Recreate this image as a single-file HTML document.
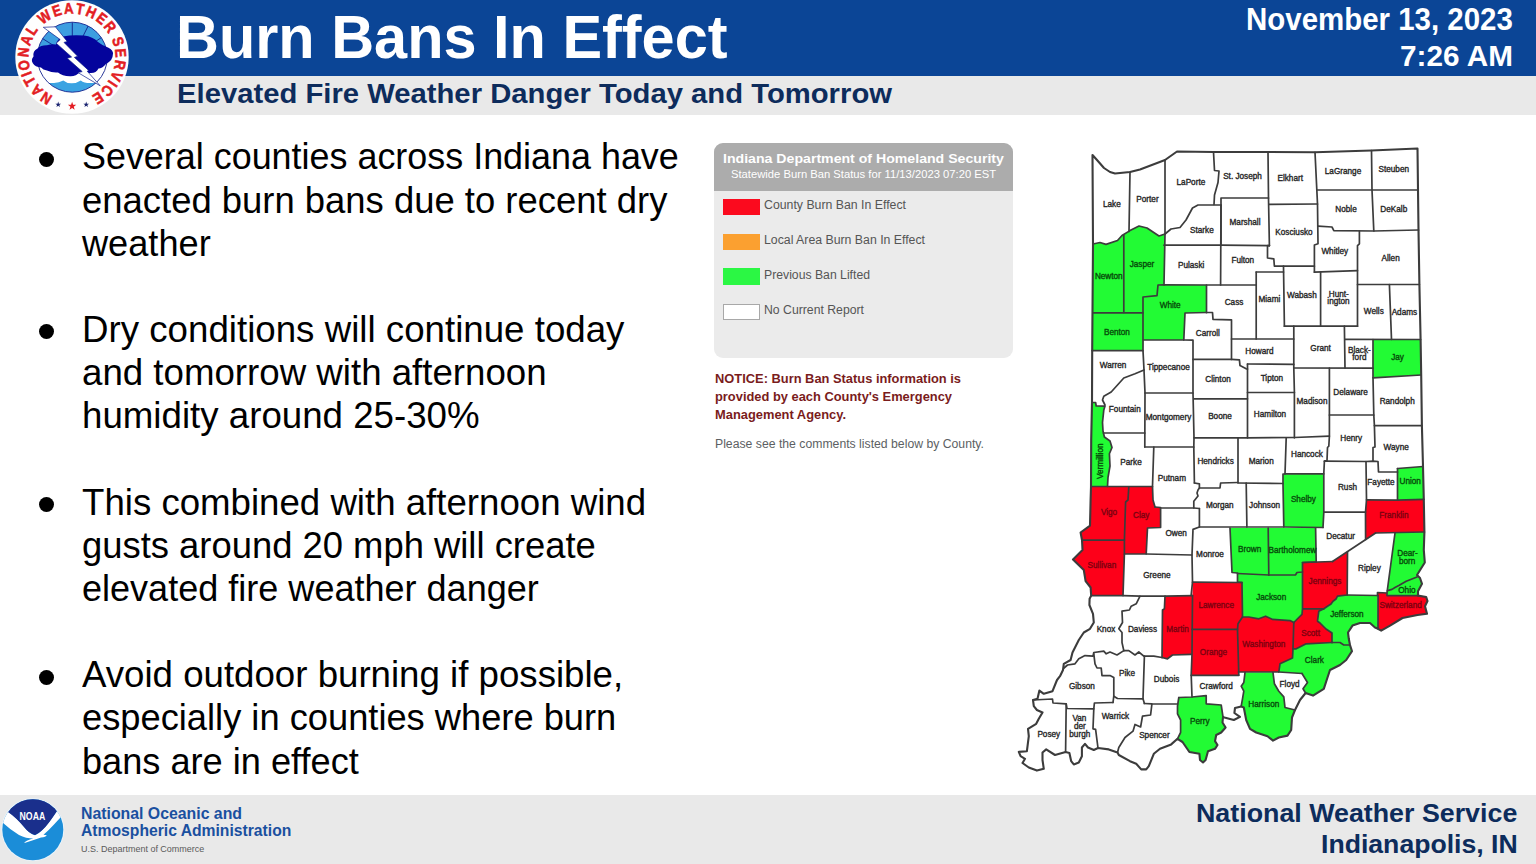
<!DOCTYPE html>
<html><head><meta charset="utf-8"><title>Burn Bans In Effect</title>
<style>
html,body{margin:0;padding:0;}
body{width:1536px;height:864px;position:relative;overflow:hidden;background:#fff;font-family:"Liberation Sans",sans-serif;}
.t{position:absolute;white-space:nowrap;line-height:1;transform-origin:0 0;padding:0;margin:0;}
.t{line-height:normal}
.abs{position:absolute}
.dot{position:absolute;left:39.25px;width:15px;height:15px;border-radius:50%;background:#000}
</style></head><body>
<div class="abs" style="left:0;top:0;width:1536px;height:76px;background:#0b4596"></div>
<div class="abs" style="left:0;top:76px;width:1536px;height:38.7px;background:#e9e9e9"></div>
<div class="abs" style="left:0;top:795px;width:1536px;height:69px;background:#e9e9e9"></div>
<svg class="abs" style="position:absolute;left:0;top:0" width="150" height="120" viewBox="0 0 150 120">
<circle cx="72" cy="57" r="56.7" fill="#fefefe"/>
<clipPath id="ic"><circle cx="72.3" cy="57.2" r="35"/></clipPath>
<circle cx="72.3" cy="57.2" r="35" fill="#fff"/>
<g clip-path="url(#ic)">
<rect x="30" y="20" width="90" height="42" fill="#3d9ee0"/>
<line x1="57.0" y1="47.7" x2="41.8" y2="38.1" stroke="#10208c" stroke-width="0.9"/>
<line x1="63.3" y1="41.6" x2="54.3" y2="26.0" stroke="#10208c" stroke-width="0.9"/>
<line x1="72.3" y1="39.2" x2="72.3" y2="21.2" stroke="#10208c" stroke-width="0.9"/>
<line x1="80.5" y1="41.2" x2="88.6" y2="25.1" stroke="#10208c" stroke-width="0.9"/>
<line x1="87.2" y1="47.1" x2="102.1" y2="37.1" stroke="#10208c" stroke-width="0.9"/>
<path d="M30,84 Q46,82.5 54,83 Q59,82.8 63.3,80.4 Q67,83.5 72,83.2 Q77,83 80.8,80.4 Q84,83 90,83 Q100,82.5 115,84 L115,100 L30,100 Z" fill="#3aa3e2"/>
</g>
<circle cx="72.3" cy="57.2" r="35" fill="none" stroke="#14248f" stroke-width="0.9"/>
<path d="M63,36.5 Q72,34.5 84,35.5 Q93,36.5 98,42 Q103,46 108,47.5 Q114,50 112.8,55 Q113,60 106,64 Q102,68.5 98.5,68.5 Q96,73.5 90,73 Q84,73.5 80,72 Q76,76.5 70,76.2 Q62,76 58,72.5 Q52,73 47,70.5 Q43,69.8 41,67.5 Q35,67 33,63.5 Q30.5,60 33.5,56.5 Q32.5,51 37.5,48.5 Q41,45 47,45.2 Q52,43.5 56,44.5 Q57,39 63,36.5 Z" fill="#04049c"/>
<polygon points="43.3,27.3 55.4,26.8 67.2,41.4 64.0,42.4 77.6,56.2 74.4,57.4 88.6,70.4 87.2,71.2 100.2,85.8 78,72.6 82.2,71.6 67.2,58.2 71.6,57.0 56.2,43.2 60.2,39.6" fill="#fff" stroke="#10208c" stroke-width="0.7" stroke-linejoin="miter"/>
<polygon points="58.20,101.60 58.91,103.63 61.05,103.67 59.34,104.97 59.96,107.03 58.20,105.80 56.44,107.03 57.06,104.97 55.35,103.67 57.49,103.63" fill="#1b2470"/>
<polygon points="72.10,101.80 73.13,104.78 76.28,104.84 73.77,106.74 74.69,109.76 72.10,107.96 69.51,109.76 70.43,106.74 67.92,104.84 71.07,104.78" fill="#e31d23"/>
<polygon points="86.20,101.60 86.91,103.63 89.05,103.67 87.34,104.97 87.96,107.03 86.20,105.80 84.44,107.03 85.06,104.97 83.35,103.67 85.49,103.63" fill="#1b2470"/>
<g font-family="Liberation Sans, sans-serif" font-weight="bold" font-size="15.3" fill="#e31d23" stroke="#e31d23" stroke-width="0.55" text-anchor="middle">
<text transform="rotate(-148.00 72 57) translate(72 13.600000000000001) scale(0.86 1)">N</text>
<text transform="rotate(-133.25 72 57) translate(72 13.600000000000001) scale(0.86 1)">A</text>
<text transform="rotate(-119.64 72 57) translate(72 13.600000000000001) scale(0.86 1)">T</text>
<text transform="rotate(-110.56 72 57) translate(72 13.600000000000001) scale(0.86 1)">I</text>
<text transform="rotate(-99.78 72 57) translate(72 13.600000000000001) scale(0.86 1)">O</text>
<text transform="rotate(-84.46 72 57) translate(72 13.600000000000001) scale(0.86 1)">N</text>
<text transform="rotate(-69.71 72 57) translate(72 13.600000000000001) scale(0.86 1)">A</text>
<text transform="rotate(-56.10 72 57) translate(72 13.600000000000001) scale(0.86 1)">L</text>
<text transform="rotate(-34.54 72 57) translate(72 13.600000000000001) scale(0.86 1)">W</text>
<text transform="rotate(-18.09 72 57) translate(72 13.600000000000001) scale(0.86 1)">E</text>
<text transform="rotate(-3.90 72 57) translate(72 13.600000000000001) scale(0.86 1)">A</text>
<text transform="rotate(9.71 72 57) translate(72 13.600000000000001) scale(0.86 1)">T</text>
<text transform="rotate(23.32 72 57) translate(72 13.600000000000001) scale(0.86 1)">H</text>
<text transform="rotate(37.51 72 57) translate(72 13.600000000000001) scale(0.86 1)">E</text>
<text transform="rotate(51.69 72 57) translate(72 13.600000000000001) scale(0.86 1)">R</text>
<text transform="rotate(71.56 72 57) translate(72 13.600000000000001) scale(0.86 1)">S</text>
<text transform="rotate(85.18 72 57) translate(72 13.600000000000001) scale(0.86 1)">E</text>
<text transform="rotate(99.37 72 57) translate(72 13.600000000000001) scale(0.86 1)">R</text>
<text transform="rotate(113.55 72 57) translate(72 13.600000000000001) scale(0.86 1)">V</text>
<text transform="rotate(123.20 72 57) translate(72 13.600000000000001) scale(0.86 1)">I</text>
<text transform="rotate(133.41 72 57) translate(72 13.600000000000001) scale(0.86 1)">C</text>
<text transform="rotate(147.60 72 57) translate(72 13.600000000000001) scale(0.86 1)">E</text>
</g>
</svg>
<svg style="position:absolute;left:0;top:795px" width="70" height="69" viewBox="0 795 70 69">
<circle cx="32.8" cy="829.7" r="31.4" fill="#eaf4fb"/>
<clipPath id="nc"><circle cx="32.8" cy="829.7" r="30.5"/></clipPath>
<g clip-path="url(#nc)">
<rect x="0" y="795" width="70" height="69" fill="#1b8dd8"/>
<path d="M0,821 L8,811.5 Q17,818 25,828 Q30,834 35,835.2 Q41,833 50,821 Q55,814 58,809.5 L63,815 Q58,820 54,824.5 Q48,831 43.5,834.8 L46.8,835.2 Q46,837 41,837.6 Q33,840.5 24.5,843 Q24,842 28,840.2 Q32,838.5 33.5,838.6 Q26,838.6 19,835 Q10,829.5 2.5,822.5 Z" fill="#fff"/>
<path d="M8,812 Q20,796 32.8,797 Q46,796 57.5,810.2 Q53,817 49,822.5 Q42,832 35,835 Q29,833.5 24,827 Q16,817.5 8,812 Z" fill="#1a2f8c"/>
</g>
<text transform="translate(32.4 819.5) scale(0.80 1)" text-anchor="middle" font-family="Liberation Sans, sans-serif" font-weight="bold" font-size="10.9" fill="#fff">NOAA</text>
</svg>
<div class="dot" style="top:151.75px"></div>
<div class="dot" style="top:324.39px"></div>
<div class="dot" style="top:497.03px"></div>
<div class="dot" style="top:669.67px"></div>
<!-- legend -->
<div class="abs" style="left:714px;top:143.1px;width:298.8px;height:215.4px;border-radius:9px;background:#ebebeb;overflow:hidden">
 <div style="position:absolute;left:0;top:0;width:100%;height:47.6px;background:#acacac"></div>
</div>
<div class="abs" style="left:722.8px;top:199px;width:37.6px;height:16.2px;background:#fb0a1e"></div>
<div class="abs" style="left:722.8px;top:233.7px;width:37.6px;height:16.3px;background:#fba030"></div>
<div class="abs" style="left:722.8px;top:268.3px;width:37.6px;height:16.9px;background:#2bf744"></div>
<div class="abs" style="left:722.8px;top:303.9px;width:35.6px;height:14px;background:#fff;border:1px solid #a8a8a8"></div>
<svg id="map" width="1536" height="864" viewBox="0 0 1536 864" style="position:absolute;left:0;top:0">
<polygon points="1092.5,155.0 1097.0,160.0 1104.0,168.0 1110.0,172.0 1115.0,173.5 1130.0,172.0 1140.0,169.5 1165.0,160.0 1177.0,151.5 1213.5,152.0 1268.0,152.0 1315.0,152.3 1371.5,150.5 1417.5,148.5 1418.0,190.0 1418.5,230.0 1419.4,284.5 1420.6,339.5 1421.2,375.0 1421.9,425.6 1423.0,466.5 1423.8,499.4 1424.4,532.0 1423.8,550.0 1424.8,562.5 1417.0,575.0 1420.0,578.0 1422.0,583.8 1418.0,591.2 1418.0,595.6 1426.2,597.0 1427.5,601.0 1425.0,606.2 1427.0,613.8 1417.5,615.0 1402.5,618.0 1390.0,625.6 1381.2,630.6 1378.0,628.8 1375.0,627.5 1370.0,623.0 1360.0,623.0 1352.5,625.6 1348.0,632.5 1348.8,638.8 1350.0,645.0 1352.0,651.2 1346.2,660.0 1340.0,665.0 1330.0,670.0 1327.5,677.5 1323.8,688.8 1313.0,695.6 1305.6,693.0 1300.0,700.0 1295.0,710.0 1292.0,717.5 1291.2,730.0 1287.5,735.6 1278.8,737.5 1273.0,740.6 1267.5,736.2 1256.2,732.5 1250.0,728.8 1246.2,720.0 1243.8,707.5 1241.2,706.5 1235.0,708.0 1234.4,713.0 1240.0,716.9 1233.8,720.0 1224.4,717.5 1223.0,717.0 1222.5,722.5 1225.6,727.5 1221.2,732.5 1216.2,735.0 1215.0,741.2 1217.5,745.0 1215.0,748.8 1208.0,751.2 1205.6,760.0 1203.0,762.5 1200.0,760.0 1199.4,753.8 1189.4,752.0 1182.5,742.0 1177.5,738.8 1171.2,744.4 1160.0,748.8 1153.8,753.8 1148.8,766.2 1146.2,769.4 1141.2,769.4 1136.2,763.8 1130.0,761.2 1118.8,755.0 1117.5,752.5 1108.8,749.4 1098.0,748.0 1093.8,750.0 1088.0,747.5 1085.0,743.8 1081.9,747.5 1081.9,756.2 1078.8,762.5 1073.8,764.4 1071.2,761.2 1069.4,753.0 1065.6,752.0 1055.0,755.0 1046.2,749.4 1042.5,752.5 1042.5,760.0 1043.8,768.8 1036.9,770.6 1028.8,767.5 1022.5,763.0 1025.0,758.8 1020.6,756.2 1018.8,751.9 1026.9,751.2 1028.8,736.2 1028.0,728.8 1036.2,723.8 1038.8,718.8 1042.5,712.5 1036.9,710.0 1033.8,706.2 1033.0,700.0 1037.5,698.8 1039.4,690.6 1043.8,693.8 1052.5,691.2 1057.0,680.0 1060.0,676.2 1063.0,670.0 1063.8,663.8 1070.6,660.0 1072.5,652.5 1078.8,640.0 1083.8,632.5 1090.0,628.8 1093.8,622.5 1093.0,613.8 1089.4,605.0 1089.6,598.8 1091.2,595.6 1090.6,587.5 1085.6,581.2 1083.8,570.0 1073.0,559.4 1082.5,550.0 1082.0,540.0 1080.6,532.5 1090.0,525.6 1090.6,500.0 1091.0,487.0 1091.2,440.0 1092.0,402.5 1092.2,350.0 1093.0,245.0" fill="#fff" stroke="none"/>
<polygon points="1093.0,244.0 1100.0,242.5 1106.0,244.4 1117.5,240.5 1122.0,235.5 1130.0,230.6 1139.0,226.0 1147.0,228.0 1159.0,236.0 1165.0,234.0 1164.0,284.8 1206.5,285.0 1206.5,312.5 1185.0,313.0 1183.8,340.0 1143.5,340.0 1143.0,350.6 1092.0,350.6 1093.0,312.0" fill="#22fb34"/>
<polygon points="1092.0,402.5 1095.6,402.5 1096.2,406.0 1104.4,406.2 1105.0,406.0 1103.8,410.0 1102.5,422.5 1103.0,431.0 1104.4,437.0 1110.0,441.0 1112.0,447.5 1109.4,453.8 1110.0,466.0 1108.0,477.5 1107.5,486.5 1091.0,486.5 1091.2,440.0" fill="#22fb34"/>
<polygon points="1373.0,339.5 1420.6,339.5 1421.2,375.0 1373.0,377.8" fill="#22fb34"/>
<polygon points="1283.0,474.2 1323.8,473.8 1323.8,512.5 1323.0,527.5 1283.8,527.0 1283.0,483.5" fill="#22fb34"/>
<polygon points="1397.5,468.5 1423.0,466.5 1423.8,499.4 1397.5,500.2" fill="#22fb34"/>
<polygon points="1230.0,528.0 1315.6,528.0 1316.2,562.0 1302.5,562.5 1302.5,608.8 1302.0,614.4 1293.8,622.5 1290.0,620.6 1272.5,619.4 1265.6,616.2 1258.8,618.8 1248.8,617.0 1242.5,617.0 1242.0,582.5 1237.5,582.0 1237.5,573.0 1232.0,572.5" fill="#22fb34"/>
<polygon points="1395.0,533.0 1424.4,532.0 1423.8,550.0 1424.8,562.5 1417.0,575.0 1420.0,578.0 1422.0,583.8 1418.0,591.2 1418.0,595.6 1387.0,595.6 1387.0,592.5" fill="#22fb34"/>
<polygon points="1337.5,596.2 1347.2,595.0 1377.5,595.5 1378.0,628.8 1375.0,627.5 1370.0,623.0 1360.0,623.0 1352.5,625.6 1348.0,632.5 1348.8,638.8 1350.0,645.0 1352.0,651.2 1346.2,660.0 1340.0,665.0 1330.0,670.0 1327.5,677.5 1323.8,688.8 1313.0,695.6 1305.6,693.0 1305.6,693.0 1303.0,688.8 1307.5,682.5 1302.0,673.5 1278.8,672.0 1280.0,663.8 1292.5,658.0 1293.0,648.8 1296.2,648.8 1306.2,643.8 1332.0,642.5 1332.0,633.0 1329.0,631.0 1326.0,629.0 1323.0,626.0 1320.0,623.0 1317.5,621.2 1318.8,611.2 1323.8,608.8 1327.5,606.2 1331.0,604.0 1333.0,601.2 1336.0,599.0 1337.5,596.2" fill="#22fb34"/>
<polygon points="1245.0,672.5 1273.0,672.5 1274.4,683.8 1278.8,691.2 1283.8,696.9 1285.0,707.5 1295.0,710.0 1292.0,717.5 1291.2,730.0 1287.5,735.6 1278.8,737.5 1273.0,740.6 1267.5,736.2 1256.2,732.5 1250.0,728.8 1246.2,720.0 1243.8,707.5 1241.2,706.2 1242.5,698.8 1243.8,691.2 1241.2,686.2 1243.8,682.5 1245.0,672.5" fill="#22fb34"/>
<polygon points="1178.8,697.5 1192.0,697.0 1206.2,695.6 1206.2,703.8 1221.2,705.0 1223.0,717.0 1222.5,722.5 1225.6,727.5 1221.2,732.5 1216.2,735.0 1215.0,741.2 1217.5,745.0 1215.0,748.8 1208.0,751.2 1205.6,760.0 1203.0,762.5 1200.0,760.0 1199.4,753.8 1189.4,752.0 1182.5,742.0 1177.5,738.8 1180.6,732.5 1180.6,720.0 1177.5,713.8 1177.5,706.2 1178.8,697.5" fill="#22fb34"/>
<polygon points="1091.0,486.5 1152.5,486.5 1153.0,500.0 1155.0,507.0 1160.6,507.5 1160.6,527.5 1147.5,528.0 1146.2,554.0 1124.4,554.0 1123.0,595.6 1091.2,595.6 1090.6,587.5 1085.6,581.2 1083.8,570.0 1073.0,559.4 1082.5,550.0 1082.0,540.0 1080.6,532.5 1090.0,525.6 1090.6,500.0" fill="#fd0019"/>
<polygon points="1366.5,499.8 1397.5,500.2 1423.8,499.4 1424.4,532.0 1375.6,533.0 1365.6,539.5 1365.5,512.2" fill="#fd0019"/>
<polygon points="1302.5,562.5 1332.5,561.5 1347.5,552.0 1347.2,595.0 1337.5,596.2 1336.0,599.0 1333.0,601.2 1331.0,604.0 1327.5,606.2 1323.8,608.8 1303.0,608.8" fill="#fd0019"/>
<polygon points="1377.5,592.5 1387.0,593.0 1387.0,595.6 1418.0,595.6 1426.2,597.0 1427.5,601.0 1425.0,606.2 1427.0,613.8 1417.5,615.0 1402.5,618.0 1390.0,625.6 1381.2,630.6 1378.0,628.8 1378.0,595.5" fill="#fd0019"/>
<polygon points="1165.0,596.2 1192.5,595.6 1192.5,582.2 1242.0,582.5 1242.5,617.0 1248.8,617.0 1258.8,618.8 1265.6,616.2 1272.5,619.4 1290.0,620.6 1293.8,622.5 1302.0,614.4 1302.5,608.8 1323.8,608.8 1318.8,611.2 1317.5,621.2 1320.0,623.0 1323.0,626.0 1326.0,629.0 1329.0,631.0 1332.0,633.0 1332.0,642.5 1306.2,643.8 1296.2,648.8 1293.0,648.8 1292.5,658.0 1280.0,663.8 1278.8,672.0 1238.5,672.0 1238.8,675.3 1191.2,675.3 1192.0,654.4 1172.5,655.0 1167.5,658.8 1162.0,657.5 1162.5,610.0 1164.4,608.8" fill="#fd0019"/>
<g fill="none" stroke="#3c3c3c" stroke-width="1.7" stroke-linejoin="round" stroke-linecap="round">
<polyline points="1130.0,172.0 1129.0,231.5"/>
<polyline points="1165.0,160.0 1165.0,234.0"/>
<polyline points="1093.0,244.0 1100.0,242.5 1106.0,244.4 1117.5,240.5 1122.0,235.5 1130.0,230.6 1139.0,226.0 1147.0,228.0 1159.0,236.0 1165.0,234.0 1171.0,229.0 1180.0,227.5 1186.0,220.0 1192.5,208.0 1198.0,205.0 1221.0,205.0"/>
<polyline points="1213.5,152.0 1214.5,170.5 1219.0,171.0 1218.0,182.5 1214.5,195.0 1214.0,204.5"/>
<polyline points="1221.0,245.3 1221.0,198.0 1268.5,198.0"/>
<polyline points="1268.0,152.0 1268.5,198.0 1269.4,245.6"/>
<polyline points="1164.0,245.2 1221.0,245.2 1269.4,245.6"/>
<polyline points="1269.0,204.4 1317.5,204.0"/>
<polyline points="1315.0,152.3 1317.5,204.0 1318.0,243.8 1314.4,245.0 1314.4,272.2"/>
<polyline points="1371.5,150.5 1372.0,190.0 1373.8,231.0"/>
<polyline points="1317.0,190.0 1418.0,190.0"/>
<polyline points="1318.0,226.2 1332.0,227.0 1333.8,230.6 1373.8,231.0 1418.5,230.0"/>
<polyline points="1359.4,231.0 1359.4,243.8 1357.5,245.6 1357.5,284.5 1357.5,326.2"/>
<polyline points="1269.4,245.6 1267.5,245.6 1267.5,258.0 1273.8,258.8 1274.4,266.2 1314.4,266.2"/>
<polyline points="1314.4,272.2 1357.5,270.6"/>
<polyline points="1357.5,284.5 1419.4,284.5"/>
<polyline points="1389.4,284.5 1391.5,339.4"/>
<polyline points="1165.0,234.0 1164.0,284.6"/>
<polyline points="1221.0,205.0 1220.6,285.0"/>
<polyline points="1164.0,284.8 1206.5,285.0 1220.6,285.0 1256.2,285.0"/>
<polyline points="1164.0,284.8 1158.0,285.0 1157.0,295.6 1143.0,297.0 1143.0,312.8 1143.0,350.6 1144.0,370.0 1145.0,393.0 1144.8,447.0"/>
<polyline points="1123.8,235.0 1123.8,312.5"/>
<polyline points="1093.0,312.8 1143.0,312.8"/>
<polyline points="1092.0,350.6 1143.0,350.6"/>
<polyline points="1206.5,285.0 1206.5,312.5"/>
<polyline points="1206.5,312.5 1185.0,313.0 1183.8,340.0"/>
<polyline points="1206.5,312.5 1212.5,312.5 1213.0,319.4 1231.5,319.8 1231.5,359.4"/>
<polyline points="1143.5,340.0 1183.8,340.0 1193.0,340.2 1193.0,359.4 1193.0,393.0 1194.0,438.0 1193.8,447.0 1194.4,483.0"/>
<polyline points="1193.0,359.4 1231.5,359.4 1239.4,359.8 1240.0,365.6 1246.2,368.8 1247.5,369.0"/>
<polyline points="1256.2,272.0 1256.2,339.0"/>
<polyline points="1256.2,272.0 1283.5,272.0"/>
<polyline points="1283.5,266.2 1284.4,326.2"/>
<polyline points="1320.6,272.0 1320.6,326.2"/>
<polyline points="1284.4,326.2 1357.5,326.2"/>
<polyline points="1293.8,326.2 1293.8,368.0 1294.4,392.5 1294.4,437.8"/>
<polyline points="1231.5,339.0 1293.8,339.0"/>
<polyline points="1344.4,326.2 1345.0,368.0"/>
<polyline points="1345.0,339.4 1420.6,339.5"/>
<polyline points="1293.8,368.0 1373.0,368.2"/>
<polyline points="1373.0,339.5 1373.0,368.2 1373.0,377.8 1373.8,415.0 1374.4,425.6 1375.0,447.0 1373.0,447.5 1373.0,461.2"/>
<polyline points="1373.0,377.8 1421.2,375.0"/>
<polyline points="1374.4,425.6 1421.9,425.6"/>
<polyline points="1247.5,364.0 1293.8,364.4"/>
<polyline points="1247.5,364.0 1247.5,437.8"/>
<polyline points="1247.5,392.5 1294.4,392.5"/>
<polyline points="1194.0,398.8 1247.5,398.8"/>
<polyline points="1145.0,393.0 1193.0,393.0"/>
<polyline points="1329.4,368.2 1329.4,436.2 1328.8,446.2 1327.5,447.5 1327.0,460.6 1324.4,461.0 1323.8,473.8 1323.8,512.5 1323.0,527.5"/>
<polyline points="1329.4,415.0 1373.8,415.0"/>
<polyline points="1194.0,437.8 1247.5,437.8 1294.4,437.5 1329.4,436.2"/>
<polyline points="1238.0,438.0 1238.0,482.5"/>
<polyline points="1286.2,438.0 1285.0,473.9 1283.0,474.2 1283.0,483.5 1283.8,527.0"/>
<polyline points="1285.0,473.8 1323.8,473.8"/>
<polyline points="1238.0,483.0 1283.0,483.5"/>
<polyline points="1324.4,461.2 1366.2,461.5 1373.0,461.2 1378.0,461.5 1378.5,472.0 1397.5,472.0"/>
<polyline points="1397.5,468.5 1397.5,500.0"/>
<polyline points="1397.5,468.5 1423.0,466.5"/>
<polyline points="1366.0,461.5 1366.5,499.8 1365.5,512.2 1365.6,539.5"/>
<polyline points="1366.5,499.8 1397.5,500.2 1423.8,499.4"/>
<polyline points="1323.8,512.2 1365.5,512.2"/>
<polyline points="1144.0,370.0 1135.0,373.8 1123.8,378.0 1117.5,385.0 1111.2,392.0 1103.8,396.2 1102.5,400.0 1105.0,405.0"/>
<polyline points="1092.0,402.5 1095.6,402.5 1096.2,406.0 1104.4,406.2"/>
<polyline points="1105.0,406.0 1103.8,410.0 1102.5,422.5 1103.0,431.0 1104.4,437.0 1110.0,441.0 1112.0,447.5 1109.4,453.8 1110.0,466.0 1108.0,477.5 1107.5,486.5"/>
<polyline points="1103.5,433.0 1144.8,433.0"/>
<polyline points="1144.8,447.0 1193.8,447.0"/>
<polyline points="1153.8,447.0 1152.5,486.5 1153.0,500.0 1155.0,507.0"/>
<polyline points="1091.0,486.5 1152.5,486.5"/>
<polyline points="1128.8,487.0 1128.0,500.0 1125.6,502.0 1124.4,540.0 1124.4,554.0 1123.0,595.6"/>
<polyline points="1082.0,540.2 1124.4,540.2"/>
<polyline points="1155.0,507.0 1160.6,507.5 1160.6,527.5 1147.5,528.0 1146.2,554.0"/>
<polyline points="1124.4,554.0 1146.2,554.0 1192.0,555.0"/>
<polyline points="1160.6,508.0 1193.8,508.0 1199.4,508.5"/>
<polyline points="1194.4,483.0 1199.4,483.8 1199.4,488.0 1198.0,490.0 1197.0,493.0 1198.0,496.0 1193.8,501.2 1193.8,508.0"/>
<polyline points="1199.4,488.0 1220.0,488.0 1220.6,483.0 1238.0,482.5"/>
<polyline points="1199.4,508.5 1199.4,527.0 1193.0,529.4 1192.0,555.0 1192.5,582.0 1191.2,594.8"/>
<polyline points="1199.4,527.0 1246.5,527.0 1283.8,527.0 1323.0,527.5"/>
<polyline points="1246.2,483.0 1246.9,527.0"/>
<polyline points="1230.0,528.0 1232.0,572.5 1237.5,573.0 1237.5,582.0 1242.0,582.5"/>
<polyline points="1237.5,573.5 1268.8,575.0"/>
<polyline points="1268.2,528.0 1268.8,575.0"/>
<polyline points="1315.6,528.0 1316.2,562.0"/>
<polyline points="1316.2,562.0 1302.5,562.5 1302.5,572.0 1297.0,572.5 1295.6,574.8 1268.8,575.0"/>
<polyline points="1302.5,562.5 1332.5,561.5"/>
<polyline points="1375.6,533.0 1332.5,561.5"/>
<polyline points="1375.6,533.0 1424.4,532.0"/>
<polyline points="1395.0,533.0 1387.0,592.5"/>
<polyline points="1347.5,552.0 1347.2,595.0"/>
<polyline points="1347.2,595.0 1377.5,595.5"/>
<polyline points="1377.5,595.5 1377.5,592.5 1387.0,593.0 1387.0,595.6 1418.0,595.6"/>
<polyline points="1417.0,577.0 1406.2,581.2 1398.8,585.6 1395.0,587.5 1392.0,589.4 1387.5,590.6"/>
<polyline points="1378.0,595.5 1378.0,628.8"/>
<polyline points="1347.2,595.0 1337.5,596.2 1336.0,599.0 1333.0,601.2 1331.0,604.0 1327.5,606.2 1323.8,608.8 1303.0,608.8"/>
<polyline points="1302.5,572.0 1302.5,608.8 1302.0,614.4 1293.8,622.5"/>
<polyline points="1323.8,608.8 1318.8,611.2 1317.5,621.2 1320.0,623.0 1323.0,626.0 1326.0,629.0 1329.0,631.0 1332.0,633.0 1332.0,642.5"/>
<polyline points="1332.0,642.5 1306.2,643.8 1296.2,648.8 1293.0,648.8"/>
<polyline points="1332.0,642.5 1340.0,642.5 1343.8,645.0 1350.0,645.0"/>
<polyline points="1293.8,622.5 1293.0,648.8 1292.5,658.0 1280.0,663.8 1278.8,672.0"/>
<polyline points="1242.5,617.0 1248.8,617.0 1258.8,618.8 1265.6,616.2 1272.5,619.4 1290.0,620.6 1293.8,622.5"/>
<polyline points="1242.0,582.5 1242.5,617.0 1238.0,623.8 1237.5,629.4 1238.8,675.0"/>
<polyline points="1192.5,582.2 1242.0,582.5"/>
<polyline points="1192.0,629.4 1237.5,629.4"/>
<polyline points="1192.5,595.6 1192.0,654.4 1191.2,675.0 1192.0,697.0"/>
<polyline points="1091.2,595.6 1123.0,595.6 1140.0,596.2 1165.0,596.2 1192.5,595.6"/>
<polyline points="1140.0,596.2 1136.2,603.8 1131.2,606.2 1129.4,610.0 1122.0,611.2 1122.5,622.5 1118.8,628.8 1122.0,632.5 1122.0,642.5 1123.8,650.6"/>
<polyline points="1123.8,650.6 1117.0,655.0 1110.0,652.0 1106.2,653.8 1103.8,651.2 1093.8,652.5 1093.0,656.2 1085.0,655.6 1078.8,658.8 1075.0,663.8 1067.5,665.0 1064.0,668.0"/>
<polyline points="1093.8,653.8 1095.0,663.8 1097.0,668.0 1101.2,668.0 1102.0,675.6 1110.0,675.6 1113.8,677.5 1113.8,696.2 1113.0,702.5"/>
<polyline points="1123.8,650.6 1128.8,650.6 1135.0,655.0 1138.8,652.0 1143.8,656.2 1153.8,656.2 1162.0,657.5"/>
<polyline points="1162.0,657.5 1167.5,658.8 1172.5,655.0 1191.2,654.4"/>
<polyline points="1165.0,596.2 1164.4,608.8 1162.5,610.0 1162.0,657.5"/>
<polyline points="1144.4,656.2 1143.0,698.8 1144.4,703.5"/>
<polyline points="1113.8,696.2 1117.5,698.5 1143.0,698.8"/>
<polyline points="1144.4,703.5 1151.9,703.8 1177.5,704.0"/>
<polyline points="1033.0,700.0 1052.5,699.0 1053.0,703.0 1066.2,703.8 1067.0,708.5 1093.8,708.8 1094.4,703.0 1113.0,702.5"/>
<polyline points="1066.2,703.8 1065.6,752.0"/>
<polyline points="1093.8,708.8 1093.0,728.8 1095.6,729.4 1098.0,748.0"/>
<polyline points="1151.9,704.0 1150.6,715.0 1142.5,716.2 1140.6,727.0 1135.0,724.4 1133.0,731.2 1125.0,737.5 1118.8,747.5 1117.5,752.5"/>
<polyline points="1178.8,697.5 1177.5,706.2 1177.5,713.8 1180.6,720.0 1180.6,732.5 1177.5,738.8"/>
<polyline points="1178.8,697.5 1192.0,697.0 1206.2,695.6 1206.2,703.8 1221.2,705.0 1223.0,717.0"/>
<polyline points="1191.2,675.3 1238.8,675.3"/>
<polyline points="1245.0,672.5 1243.8,682.5 1241.2,686.2 1243.8,691.2 1242.5,698.8 1241.2,706.2"/>
<polyline points="1238.5,672.0 1278.8,672.0 1302.0,673.5"/>
<polyline points="1273.0,672.5 1274.4,683.8 1278.8,691.2 1283.8,696.9 1285.0,707.5 1295.0,710.0"/>
<polyline points="1302.0,673.5 1307.5,682.5 1303.0,688.8 1305.6,693.0"/>
<polygon points="1092.5,155.0 1097.0,160.0 1104.0,168.0 1110.0,172.0 1115.0,173.5 1130.0,172.0 1140.0,169.5 1165.0,160.0 1177.0,151.5 1213.5,152.0 1268.0,152.0 1315.0,152.3 1371.5,150.5 1417.5,148.5 1418.0,190.0 1418.5,230.0 1419.4,284.5 1420.6,339.5 1421.2,375.0 1421.9,425.6 1423.0,466.5 1423.8,499.4 1424.4,532.0 1423.8,550.0 1424.8,562.5 1417.0,575.0 1420.0,578.0 1422.0,583.8 1418.0,591.2 1418.0,595.6 1426.2,597.0 1427.5,601.0 1425.0,606.2 1427.0,613.8 1417.5,615.0 1402.5,618.0 1390.0,625.6 1381.2,630.6 1378.0,628.8 1375.0,627.5 1370.0,623.0 1360.0,623.0 1352.5,625.6 1348.0,632.5 1348.8,638.8 1350.0,645.0 1352.0,651.2 1346.2,660.0 1340.0,665.0 1330.0,670.0 1327.5,677.5 1323.8,688.8 1313.0,695.6 1305.6,693.0 1300.0,700.0 1295.0,710.0 1292.0,717.5 1291.2,730.0 1287.5,735.6 1278.8,737.5 1273.0,740.6 1267.5,736.2 1256.2,732.5 1250.0,728.8 1246.2,720.0 1243.8,707.5 1241.2,706.5 1235.0,708.0 1234.4,713.0 1240.0,716.9 1233.8,720.0 1224.4,717.5 1223.0,717.0 1222.5,722.5 1225.6,727.5 1221.2,732.5 1216.2,735.0 1215.0,741.2 1217.5,745.0 1215.0,748.8 1208.0,751.2 1205.6,760.0 1203.0,762.5 1200.0,760.0 1199.4,753.8 1189.4,752.0 1182.5,742.0 1177.5,738.8 1171.2,744.4 1160.0,748.8 1153.8,753.8 1148.8,766.2 1146.2,769.4 1141.2,769.4 1136.2,763.8 1130.0,761.2 1118.8,755.0 1117.5,752.5 1108.8,749.4 1098.0,748.0 1093.8,750.0 1088.0,747.5 1085.0,743.8 1081.9,747.5 1081.9,756.2 1078.8,762.5 1073.8,764.4 1071.2,761.2 1069.4,753.0 1065.6,752.0 1055.0,755.0 1046.2,749.4 1042.5,752.5 1042.5,760.0 1043.8,768.8 1036.9,770.6 1028.8,767.5 1022.5,763.0 1025.0,758.8 1020.6,756.2 1018.8,751.9 1026.9,751.2 1028.8,736.2 1028.0,728.8 1036.2,723.8 1038.8,718.8 1042.5,712.5 1036.9,710.0 1033.8,706.2 1033.0,700.0 1037.5,698.8 1039.4,690.6 1043.8,693.8 1052.5,691.2 1057.0,680.0 1060.0,676.2 1063.0,670.0 1063.8,663.8 1070.6,660.0 1072.5,652.5 1078.8,640.0 1083.8,632.5 1090.0,628.8 1093.8,622.5 1093.0,613.8 1089.4,605.0 1089.6,598.8 1091.2,595.6 1090.6,587.5 1085.6,581.2 1083.8,570.0 1073.0,559.4 1082.5,550.0 1082.0,540.0 1080.6,532.5 1090.0,525.6 1090.6,500.0 1091.0,487.0 1091.2,440.0 1092.0,402.5 1092.2,350.0 1093.0,245.0" stroke-width="2.1"/>
</g>
<g font-family="Liberation Sans, sans-serif" font-size="8.2" text-anchor="middle" stroke-width="0.35">
<text x="1111.9" y="207.0" fill="#262626" stroke="#262626">Lake</text>
<text x="1147.5" y="201.8" fill="#262626" stroke="#262626">Porter</text>
<text x="1190.9" y="185.2" fill="#262626" stroke="#262626">LaPorte</text>
<text x="1242.5" y="179.0" fill="#262626" stroke="#262626">St. Joseph</text>
<text x="1245.0" y="225.0" fill="#262626" stroke="#262626">Marshall</text>
<text x="1201.9" y="233.2" fill="#262626" stroke="#262626">Starke</text>
<text x="1290.2" y="181.0" fill="#262626" stroke="#262626">Elkhart</text>
<text x="1343.0" y="173.6" fill="#262626" stroke="#262626">LaGrange</text>
<text x="1393.8" y="172.0" fill="#262626" stroke="#262626">Steuben</text>
<text x="1346.0" y="211.5" fill="#262626" stroke="#262626">Noble</text>
<text x="1393.8" y="211.5" fill="#262626" stroke="#262626">DeKalb</text>
<text x="1294.0" y="235.0" fill="#262626" stroke="#262626">Kosciusko</text>
<text x="1142.0" y="267.0" fill="#064d0a" stroke="#064d0a">Jasper</text>
<text x="1108.8" y="279.2" fill="#064d0a" stroke="#064d0a">Newton</text>
<text x="1191.2" y="267.8" fill="#262626" stroke="#262626">Pulaski</text>
<text x="1242.8" y="263.2" fill="#262626" stroke="#262626">Fulton</text>
<text x="1170.2" y="308.0" fill="#064d0a" stroke="#064d0a">White</text>
<text x="1234.0" y="305.2" fill="#262626" stroke="#262626">Cass</text>
<text x="1207.8" y="335.5" fill="#262626" stroke="#262626">Carroll</text>
<text x="1116.9" y="334.9" fill="#064d0a" stroke="#064d0a">Benton</text>
<text x="1334.8" y="254.0" fill="#262626" stroke="#262626">Whitley</text>
<text x="1390.6" y="261.0" fill="#262626" stroke="#262626">Allen</text>
<text x="1269.4" y="301.5" fill="#262626" stroke="#262626">Miami</text>
<text x="1301.9" y="297.6" fill="#262626" stroke="#262626">Wabash</text>
<text x="1338.8" y="296.8" fill="#262626" stroke="#262626">Hunt-</text>
<text x="1338.5" y="304.2" fill="#262626" stroke="#262626">ington</text>
<text x="1373.8" y="313.6" fill="#262626" stroke="#262626">Wells</text>
<text x="1404.4" y="314.5" fill="#262626" stroke="#262626">Adams</text>
<text x="1113.0" y="368.2" fill="#262626" stroke="#262626">Warren</text>
<text x="1168.5" y="369.5" fill="#262626" stroke="#262626">Tippecanoe</text>
<text x="1218.0" y="382.4" fill="#262626" stroke="#262626">Clinton</text>
<text x="1259.4" y="354.2" fill="#262626" stroke="#262626">Howard</text>
<text x="1124.8" y="412.0" fill="#262626" stroke="#262626">Fountain</text>
<text x="1168.5" y="419.9" fill="#262626" stroke="#262626">Montgomery</text>
<text x="1220.0" y="419.0" fill="#262626" stroke="#262626">Boone</text>
<text x="1320.6" y="350.5" fill="#262626" stroke="#262626">Grant</text>
<text x="1359.4" y="352.8" fill="#262626" stroke="#262626">Black-</text>
<text x="1359.4" y="360.2" fill="#262626" stroke="#262626">ford</text>
<text x="1397.5" y="359.9" fill="#064d0a" stroke="#064d0a">Jay</text>
<text x="1271.9" y="380.5" fill="#262626" stroke="#262626">Tipton</text>
<text x="1312.0" y="404.2" fill="#262626" stroke="#262626">Madison</text>
<text x="1350.6" y="395.2" fill="#262626" stroke="#262626">Delaware</text>
<text x="1397.2" y="404.2" fill="#262626" stroke="#262626">Randolph</text>
<text x="1270.0" y="416.8" fill="#262626" stroke="#262626">Hamilton</text>
<text x="1131.0" y="464.5" fill="#262626" stroke="#262626">Parke</text>
<text x="1171.9" y="480.5" fill="#262626" stroke="#262626">Putnam</text>
<text x="1215.6" y="464.2" fill="#262626" stroke="#262626">Hendricks</text>
<text x="1261.2" y="464.0" fill="#262626" stroke="#262626">Marion</text>
<text x="1219.8" y="507.8" fill="#262626" stroke="#262626">Morgan</text>
<text x="1109.0" y="515.0" fill="#7c0010" stroke="#7c0010">Vigo</text>
<text x="1141.2" y="517.8" fill="#7c0010" stroke="#7c0010">Clay</text>
<text x="1264.6" y="508.0" fill="#262626" stroke="#262626">Johnson</text>
<text x="1351.2" y="440.5" fill="#262626" stroke="#262626">Henry</text>
<text x="1306.9" y="456.8" fill="#262626" stroke="#262626">Hancock</text>
<text x="1396.2" y="449.5" fill="#262626" stroke="#262626">Wayne</text>
<text x="1347.5" y="489.5" fill="#262626" stroke="#262626">Rush</text>
<text x="1381.0" y="485.0" fill="#262626" stroke="#262626">Fayette</text>
<text x="1410.2" y="484.0" fill="#064d0a" stroke="#064d0a">Union</text>
<text x="1303.4" y="502.0" fill="#064d0a" stroke="#064d0a">Shelby</text>
<text x="1393.9" y="518.2" fill="#7c0010" stroke="#7c0010">Franklin</text>
<text x="1176.2" y="536.0" fill="#262626" stroke="#262626">Owen</text>
<text x="1210.0" y="557.0" fill="#262626" stroke="#262626">Monroe</text>
<text x="1156.9" y="577.8" fill="#262626" stroke="#262626">Greene</text>
<text x="1101.9" y="568.0" fill="#7c0010" stroke="#7c0010">Sullivan</text>
<text x="1216.2" y="607.8" fill="#7c0010" stroke="#7c0010">Lawrence</text>
<text x="1340.6" y="539.0" fill="#262626" stroke="#262626">Decatur</text>
<text x="1249.7" y="552.4" fill="#064d0a" stroke="#064d0a">Brown</text>
<text x="1292.5" y="553.2" fill="#064d0a" stroke="#064d0a">Bartholomew</text>
<text x="1325.0" y="584.2" fill="#7c0010" stroke="#7c0010">Jennings</text>
<text x="1369.4" y="570.5" fill="#262626" stroke="#262626">Ripley</text>
<text x="1407.5" y="556.0" fill="#064d0a" stroke="#064d0a">Dear-</text>
<text x="1407.2" y="564.0" fill="#064d0a" stroke="#064d0a">born</text>
<text x="1406.9" y="593.0" fill="#064d0a" stroke="#064d0a">Ohio</text>
<text x="1271.2" y="599.9" fill="#064d0a" stroke="#064d0a">Jackson</text>
<text x="1400.6" y="608.0" fill="#7c0010" stroke="#7c0010">Switzerland</text>
<text x="1106.0" y="632.4" fill="#262626" stroke="#262626">Knox</text>
<text x="1142.5" y="632.0" fill="#262626" stroke="#262626">Daviess</text>
<text x="1177.5" y="631.8" fill="#7c0010" stroke="#7c0010">Martin</text>
<text x="1213.5" y="654.9" fill="#7c0010" stroke="#7c0010">Orange</text>
<text x="1127.0" y="675.5" fill="#262626" stroke="#262626">Pike</text>
<text x="1166.6" y="682.4" fill="#262626" stroke="#262626">Dubois</text>
<text x="1081.9" y="689.2" fill="#262626" stroke="#262626">Gibson</text>
<text x="1216.2" y="688.6" fill="#262626" stroke="#262626">Crawford</text>
<text x="1346.9" y="616.8" fill="#064d0a" stroke="#064d0a">Jefferson</text>
<text x="1310.6" y="636.0" fill="#7c0010" stroke="#7c0010">Scott</text>
<text x="1263.8" y="646.8" fill="#7c0010" stroke="#7c0010">Washington</text>
<text x="1314.4" y="663.2" fill="#064d0a" stroke="#064d0a">Clark</text>
<text x="1289.6" y="687.0" fill="#262626" stroke="#262626">Floyd</text>
<text x="1263.8" y="706.8" fill="#064d0a" stroke="#064d0a">Harrison</text>
<text x="1199.8" y="724.2" fill="#064d0a" stroke="#064d0a">Perry</text>
<text x="1048.8" y="737.4" fill="#262626" stroke="#262626">Posey</text>
<text x="1079.4" y="721.0" fill="#262626" stroke="#262626">Van</text>
<text x="1079.8" y="728.6" fill="#262626" stroke="#262626">der</text>
<text x="1079.8" y="736.8" fill="#262626" stroke="#262626">burgh</text>
<text x="1115.4" y="719.2" fill="#262626" stroke="#262626">Warrick</text>
<text x="1154.4" y="737.6" fill="#262626" stroke="#262626">Spencer</text>
<text transform="translate(1102.8,461.2) rotate(-90)" fill="#064d0a" stroke="#064d0a">Vermillion</text>
</g></svg>
<div class="t" id="t0" style="left:176px;top:2.38px;font-size:61px;font-weight:bold;color:#ffffff;transform:scaleX(0.9744)">Burn Bans In Effect</div>
<div class="t" id="t1" style="left:177px;top:78.30px;font-size:28px;font-weight:bold;color:#0d2c5c;transform:scaleX(1.0444)">Elevated Fire Weather Danger Today and Tomorrow</div>
<div class="t" id="t2" style="left:1246.2px;top:1.99px;font-size:30.5px;font-weight:bold;color:#ffffff;transform:scaleX(0.9654)">November 13, 2023</div>
<div class="t" id="t3" style="left:1400.0px;top:38.87px;font-size:30.2px;font-weight:bold;color:#ffffff;transform:scaleX(0.9848)">7:26 AM</div>
<div class="t" id="t4" style="left:82px;top:136.36px;font-size:36.5px;font-weight:normal;color:#000;transform:scaleX(0.9837)">Several counties across Indiana have</div>
<div class="t" id="t5" style="left:82px;top:179.52px;font-size:36.5px;font-weight:normal;color:#000;transform:scaleX(0.9982)">enacted burn bans due to recent dry</div>
<div class="t" id="t6" style="left:82px;top:222.68px;font-size:36.5px;font-weight:normal;color:#000;transform:scaleX(0.9911)">weather</div>
<div class="t" id="t7" style="left:82px;top:309.00px;font-size:36.5px;font-weight:normal;color:#000;transform:scaleX(1.0052)">Dry conditions will continue today</div>
<div class="t" id="t8" style="left:82px;top:352.16px;font-size:36.5px;font-weight:normal;color:#000;transform:scaleX(1.0044)">and tomorrow with afternoon</div>
<div class="t" id="t9" style="left:82px;top:395.32px;font-size:36.5px;font-weight:normal;color:#000;transform:scaleX(1.0049)">humidity around 25-30%</div>
<div class="t" id="t10" style="left:82px;top:481.64px;font-size:36.5px;font-weight:normal;color:#000;transform:scaleX(1.0036)">This combined with afternoon wind</div>
<div class="t" id="t11" style="left:82px;top:524.80px;font-size:36.5px;font-weight:normal;color:#000;transform:scaleX(0.9970)">gusts around 20 mph will create</div>
<div class="t" id="t12" style="left:82px;top:567.96px;font-size:36.5px;font-weight:normal;color:#000;transform:scaleX(0.9874)">elevated fire weather danger</div>
<div class="t" id="t13" style="left:82px;top:654.28px;font-size:36.5px;font-weight:normal;color:#000;transform:scaleX(1.0039)">Avoid outdoor burning if possible,</div>
<div class="t" id="t14" style="left:82px;top:697.44px;font-size:36.5px;font-weight:normal;color:#000;transform:scaleX(0.9937)">especially in counties where burn</div>
<div class="t" id="t15" style="left:82px;top:740.60px;font-size:36.5px;font-weight:normal;color:#000;transform:scaleX(0.9908)">bans are in effect</div>
<div class="t" id="t16" style="left:722.8px;top:151.22px;font-size:13px;font-weight:bold;color:#ffffff;transform:scaleX(1.0862)">Indiana Department of Homeland Security</div>
<div class="t" id="t17" style="left:730.7px;top:168.32px;font-size:10.5px;font-weight:normal;color:#ffffff;transform:scaleX(1.0694)">Statewide Burn Ban Status for 11/13/2023 07:20 EST</div>
<div class="t" id="t18" style="left:764px;top:197.94px;font-size:12px;font-weight:normal;color:#555;transform:scaleX(1.0250)">County Burn Ban In Effect</div>
<div class="t" id="t19" style="left:764px;top:232.94px;font-size:12px;font-weight:normal;color:#555;transform:scaleX(1.0241)">Local Area Burn Ban In Effect</div>
<div class="t" id="t20" style="left:764px;top:267.94px;font-size:12px;font-weight:normal;color:#555;transform:scaleX(1.0186)">Previous Ban Lifted</div>
<div class="t" id="t21" style="left:764px;top:303.44px;font-size:12px;font-weight:normal;color:#555;transform:scaleX(1.0199)">No Current Report</div>
<div class="t" id="t22" style="left:714.5px;top:372.48px;font-size:12.5px;font-weight:bold;color:#7a1c1c;transform:scaleX(1.0297)">NOTICE: Burn Ban Status information is</div>
<div class="t" id="t23" style="left:714.5px;top:390.38px;font-size:12.5px;font-weight:bold;color:#7a1c1c;transform:scaleX(1.0299)">provided by each County's Emergency</div>
<div class="t" id="t24" style="left:714.5px;top:408.48px;font-size:12.5px;font-weight:bold;color:#7a1c1c;transform:scaleX(1.0305)">Management Agency.</div>
<div class="t" id="t25" style="left:714.5px;top:436.74px;font-size:12px;font-weight:normal;color:#5c5f63;transform:scaleX(1.0192)">Please see the comments listed below by County.</div>
<div class="t" id="t26" style="left:80.7px;top:804.43px;font-size:17px;font-weight:bold;color:#1a50a0;transform:scaleX(0.9312)">National Oceanic and</div>
<div class="t" id="t27" style="left:80.7px;top:821.33px;font-size:17px;font-weight:bold;color:#1a50a0;transform:scaleX(0.9226)">Atmospheric Administration</div>
<div class="t" id="t28" style="left:80.7px;top:844.01px;font-size:9px;font-weight:normal;color:#5a5a5a;transform:scaleX(0.9980)">U.S. Department of Commerce</div>
<div class="t" id="t29" style="left:1196.2px;top:798.48px;font-size:26.5px;font-weight:bold;color:#0d2c5c;transform:scaleX(1.0115)">National Weather Service</div>
<div class="t" id="t30" style="left:1320.8px;top:829.48px;font-size:26.5px;font-weight:bold;color:#0d2c5c;transform:scaleX(1.0045)">Indianapolis, IN</div>
</body></html>
